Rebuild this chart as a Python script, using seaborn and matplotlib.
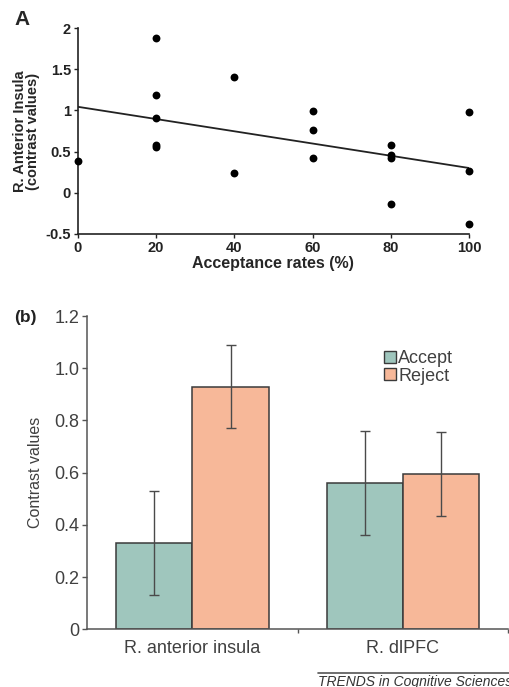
import pandas as pd
import numpy as np
import matplotlib
matplotlib.use("Agg")
import matplotlib.pyplot as plt
from matplotlib.lines import Line2D
import seaborn as sns

# panel A data: acceptance rate vs insula contrast
accept_rate = [0, 20, 20, 20, 20, 20, 40, 40, 60, 60, 60, 80, 80, 80, 80, 100, 100, 100]
insula_contrast = [0.38, 1.88, 1.19, 0.91, 0.58, 0.56, 1.41, 0.24, 0.99, 0.76, 0.42,
                   0.58, 0.46, 0.42, -0.14, 0.98, 0.27, -0.38]

# panel b data: bar means and error bar ends
regions = ["R. anterior insula", "R. dlPFC"]
accept_mean = [0.33, 0.56]
reject_mean = [0.93, 0.595]
accept_err = [0.20, 0.20]
reject_err = [0.16, 0.16]

sns.set_theme(style="ticks")
plt.rcParams['font.family'] = ['Liberation Sans', 'DejaVu Sans']

fig = plt.figure(figsize=(5.09, 6.87), dpi=100)

# ---- panel A
ax1 = fig.add_axes([0.1532, 0.6594, 0.768, 0.2998])
scat = pd.DataFrame({"rate": accept_rate, "contrast": insula_contrast})
sns.scatterplot(data=scat, x="rate", y="contrast", color="black", s=32,
                edgecolor="black", linewidth=0, clip_on=False, ax=ax1, zorder=3)
sns.regplot(data=scat, x="rate", y="contrast", scatter=False, ci=None,
            line_kws={"color": "#222222", "lw": 1.3}, ax=ax1)
ax1.set_xlim(0, 100)
ax1.set_ylim(-0.5, 2)
ax1.set_xticks([0, 20, 40, 60, 80, 100])
ax1.set_yticks([-0.5, 0, 0.5, 1, 1.5, 2])
ax1.set_yticklabels(["-0.5", "0", "0.5", "1", "1.5", "2"])
for s in ["top", "right"]:
    ax1.spines[s].set_visible(False)
for s in ["left", "bottom"]:
    ax1.spines[s].set_color("#222222")
    ax1.spines[s].set_linewidth(1.2)
ax1.tick_params(length=3, width=1, colors="#222222", labelsize=10.5, pad=2)
for lab in ax1.get_xticklabels() + ax1.get_yticklabels():
    lab.set_fontweight("bold")
ax1.set_xlabel("Acceptance rates (%)", fontsize=11.5, fontweight="bold", labelpad=1)
ax1.set_ylabel("R. Anterior Insula\n(contrast values)", fontsize=10.5,
               fontweight="bold", labelpad=4, linespacing=0.95)
fig.text(14 / 509, 1 - 25 / 687, "A", fontsize=15, fontweight="bold")

# ---- panel b
ax2 = fig.add_axes([0.1715, 0.084, 0.8266, 0.456])
bars = pd.DataFrame({
    "region": regions * 2,
    "value": accept_mean + reject_mean,
    "cond": ["Accept"] * 2 + ["Reject"] * 2,
})
pal = {"Accept": "#9fc6bd", "Reject": "#f7b899"}
sns.barplot(data=bars, x="region", y="value", hue="cond", palette=pal,
            width=0.725, gap=0, errorbar=None, edgecolor="#3a3a3a",
            linewidth=1.1, saturation=1, legend=False, ax=ax2)
for cont, err in zip(ax2.containers, [accept_err, reject_err]):
    xs = [p.get_x() + p.get_width() / 2 for p in cont]
    ys = [p.get_height() for p in cont]
    ax2.errorbar(xs, ys, yerr=err, fmt="none", ecolor="#4a4a4a",
                 elinewidth=1.0, capsize=3.5, capthick=1.0, zorder=4)

ax2.set_xlim(-0.5, 1.5)
ax2.set_ylim(0, 1.2)
ax2.set_yticks([0, 0.2, 0.4, 0.6, 0.8, 1.0, 1.2])
ax2.set_yticklabels(["0", "0.2", "0.4", "0.6", "0.8", "1.0", "1.2"])
ax2.set_xticks([0, 1])
ax2.set_xticks([0.5, 1.5], minor=True)
ax2.tick_params(axis="x", which="major", length=0, labelsize=13, colors="#404040", pad=8)
ax2.tick_params(axis="x", which="minor", length=3, width=1, color="#555555")
ax2.tick_params(axis="y", length=3.5, width=1, color="#555555", labelsize=13,
                labelcolor="#404040", pad=2)
for s in ["top", "right"]:
    ax2.spines[s].set_visible(False)
for s in ["left", "bottom"]:
    ax2.spines[s].set_color("#555555")
    ax2.spines[s].set_linewidth(1.1)
ax2.set_xlabel("")
ax2.set_ylabel("Contrast values", fontsize=11.5, color="#404040", labelpad=8)

handles = [Line2D([], [], marker="s", ls="none", markersize=8, markerfacecolor=pal[k],
                  markeredgecolor="#3a3a3a", markeredgewidth=1) for k in ["Accept", "Reject"]]
ax2.legend(handles, ["Accept", "Reject"], loc="upper left", bbox_to_anchor=(0.685, 0.915),
           frameon=False, fontsize=13, handletextpad=0.05, labelspacing=0.05,
           handlelength=0.8, borderaxespad=0, labelcolor="#404040")

fig.text(14 / 509, 1 - 322 / 687, "(b)", fontsize=12.5, fontweight="bold", color="#222222")

# footer
fig.add_artist(Line2D([318 / 509, 1.0], [1 - 673 / 687, 1 - 673 / 687],
                      color="#555555", lw=1.2, transform=fig.transFigure))
fig.text(318 / 509, 1 - 686 / 687, "TRENDS in Cognitive Sciences", fontsize=10,
         style="italic", color="#333333")

fig.savefig("out.png", dpi=100)
